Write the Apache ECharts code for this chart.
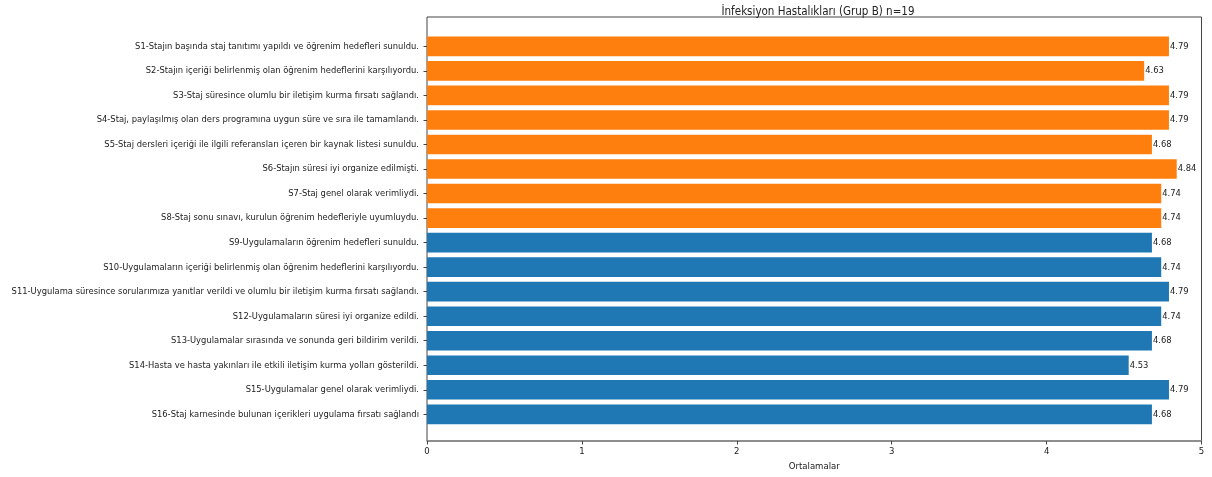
<!DOCTYPE html>
<html><head><meta charset="utf-8">
<script src="https://cdn.jsdelivr.net/npm/echarts@6/dist/echarts.min.js"></script>
<style>html,body{margin:0;padding:0;background:#fff}#c{width:1212px;height:477px}</style>
</head><body><div id="c"></div>
<script>
const title = 'İnfeksiyon Hastalıkları (Grup B) n=19';
const categories = [
 'S1-Stajın başında staj tanıtımı yapıldı ve öğrenim hedefleri sunuldu.',
 'S2-Stajın içeriği belirlenmiş olan öğrenim hedeflerini karşılıyordu.',
 'S3-Staj süresince olumlu bir iletişim kurma fırsatı sağlandı.',
 'S4-Staj, paylaşılmış olan ders programına uygun süre ve sıra ile tamamlandı.',
 'S5-Staj dersleri içeriği ile ilgili referansları içeren bir kaynak listesi sunuldu.',
 'S6-Stajın süresi iyi organize edilmişti.',
 'S7-Staj genel olarak verimliydi.',
 'S8-Staj sonu sınavı, kurulun öğrenim hedefleriyle uyumluydu.',
 'S9-Uygulamaların öğrenim hedefleri sunuldu.',
 'S10-Uygulamaların içeriği belirlenmiş olan öğrenim hedeflerini karşılıyordu.',
 'S11-Uygulama süresince sorularımıza yanıtlar verildi ve olumlu bir iletişim kurma fırsatı sağlandı.',
 'S12-Uygulamaların süresi iyi organize edildi.',
 'S13-Uygulamalar sırasında ve sonunda geri bildirim verildi.',
 'S14-Hasta ve hasta yakınları ile etkili iletişim kurma yolları gösterildi.',
 'S15-Uygulamalar genel olarak verimliydi.',
 'S16-Staj karnesinde bulunan içerikleri uygulama fırsatı sağlandı'
];
const values = [4.79,4.63,4.79,4.79,4.68,4.84,4.74,4.74,4.68,4.74,4.79,4.74,4.68,4.53,4.79,4.68];
const groups = ['staj','staj','staj','staj','staj','staj','staj','staj','uyg','uyg','uyg','uyg','uyg','uyg','uyg','uyg'];
const xTicks = [0,1,2,3,4,5];
const xLabel = 'Ortalamalar';

const colors = {staj:'#ff7f0e', uyg:'#1f77b4'};
const FONT = 'DejaVu Sans Condensed';
const txt = '#222';

const chart = echarts.init(document.getElementById('c'), null, {renderer:'canvas'});
chart.setOption({
  animation:false,
  textStyle:{fontFamily:FONT},
  title:{text:title,left:813,textAlign:'center',top:1,textStyle:{fontFamily:FONT,fontSize:11.5,fontWeight:'normal',color:txt}},
  grid:[
    {left:427,right:10.5,top:17,bottom:33,show:true,borderColor:'#444',borderWidth:1,backgroundColor:'transparent'},
    {left:427,right:10.5,top:34.1,bottom:50.4}
  ],
  xAxis:[
    {gridIndex:0,type:'value',min:xTicks[0],max:xTicks[xTicks.length-1],interval:1,
     axisLine:{show:true,lineStyle:{color:'#888',width:1.5}},axisTick:{show:true,length:3.5,lineStyle:{color:'#444'}},splitLine:{show:false},
     axisLabel:{color:txt,fontSize:9.5,margin:5.5,fontFamily:FONT},
     name:xLabel,nameLocation:'middle',nameGap:21,nameTextStyle:{color:txt,fontSize:9.5,fontFamily:FONT}},
    {gridIndex:1,type:'value',min:0,max:5,show:false}
  ],
  yAxis:[
    {gridIndex:0,type:'value',show:false,min:0,max:1},
    {gridIndex:1,type:'category',data:categories,inverse:true,
     axisLine:{show:false},axisTick:{show:true,alignWithLabel:true,length:3.5,lineStyle:{color:'#444'}},
     axisLabel:{color:txt,fontSize:9.3,margin:8,fontFamily:FONT,interval:0}}
  ],
  series:[{
    type:'bar',xAxisIndex:1,yAxisIndex:1,barWidth:'80%',
    data:values.map((v,i)=>({value:v,itemStyle:{color:colors[groups[i]]}})),
    label:{show:true,position:'right',distance:1,color:txt,fontSize:9.3,fontFamily:FONT,formatter:p=>p.value.toFixed(2)}
  }]
});
</script></body></html>
